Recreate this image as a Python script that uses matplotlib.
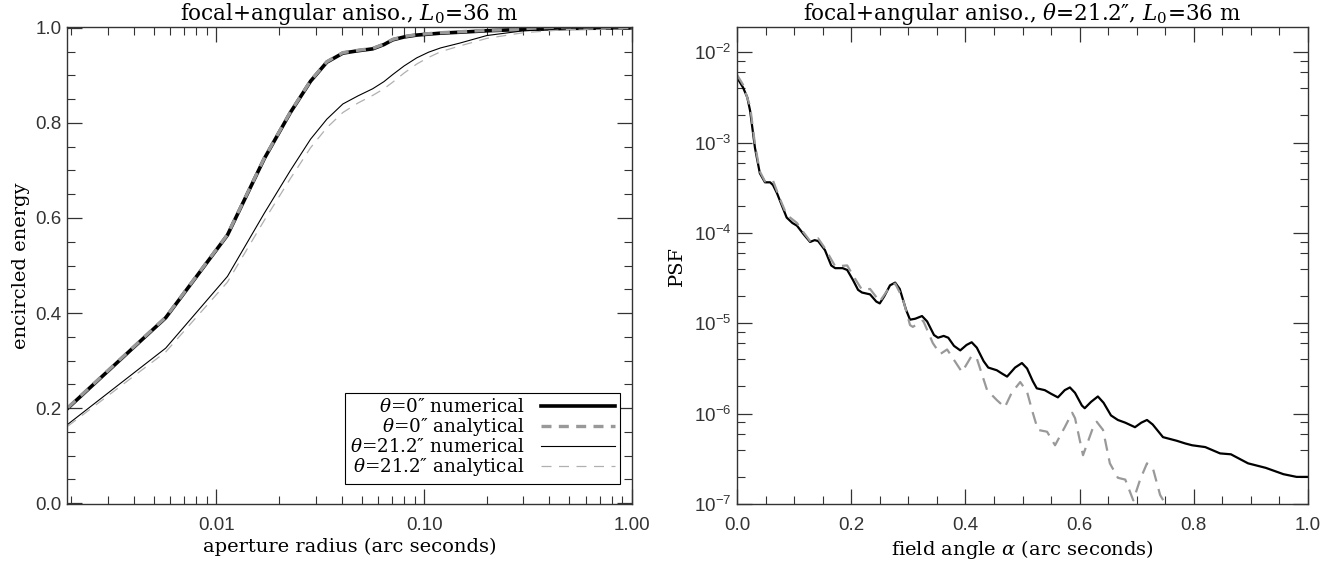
import numpy as np
import matplotlib
matplotlib.use("Agg")
import matplotlib.pyplot as plt
from matplotlib.ticker import FixedLocator, FuncFormatter, LogLocator, NullFormatter, MultipleLocator

plt.rcParams['font.family'] = ['DejaVu Serif']
plt.rcParams['mathtext.fontset'] = 'custom'
plt.rcParams['mathtext.rm'] = 'DejaVu Serif'
plt.rcParams['mathtext.it'] = 'DejaVu Serif:italic'
plt.rcParams['mathtext.sf'] = 'Liberation Sans'

# --- encircled energy (left panel) ---
aperture = [0.00193, 0.0057, 0.0113, 0.0170, 0.0227, 0.0284, 0.034, 0.0406, 0.048, 0.0565,
            0.064, 0.0706, 0.080, 0.092, 0.105, 0.120, 0.148, 0.20, 0.30, 0.50, 1.0]
ee_0_num = [0.200, 0.390, 0.564, 0.725, 0.822, 0.888, 0.928, 0.947, 0.952, 0.956,
            0.965, 0.975, 0.981, 0.985, 0.987, 0.989, 0.991, 0.994, 0.997, 0.999, 1.0]
ee_0_ana = [0.201, 0.391, 0.565, 0.726, 0.823, 0.889, 0.929, 0.948, 0.953, 0.957,
            0.966, 0.976, 0.982, 0.986, 0.988, 0.990, 0.992, 0.995, 0.997, 0.999, 1.0]
ee_21_num = [0.166, 0.326, 0.477, 0.610, 0.700, 0.766, 0.808, 0.840, 0.857, 0.872,
             0.887, 0.902, 0.920, 0.937, 0.949, 0.958, 0.968, 0.984, 0.994, 0.998, 1.0]
ee_21_ana = [0.162, 0.318, 0.465, 0.595, 0.683, 0.748, 0.790, 0.822, 0.842, 0.858,
             0.872, 0.886, 0.905, 0.924, 0.938, 0.950, 0.962, 0.978, 0.990, 0.997, 0.999]

# --- PSF at theta=21.2" (right panel), log10 values ---
alpha_num = [0.000, 0.0105, 0.018, 0.023, 0.0315, 0.040, 0.049, 0.058, 0.063, 0.070,
             0.075, 0.087, 0.097, 0.105, 0.116, 0.128, 0.136, 0.142, 0.154, 0.165,
             0.172, 0.185, 0.193, 0.203, 0.212, 0.219, 0.233, 0.244, 0.250, 0.258,
             0.268, 0.277, 0.285, 0.296, 0.303, 0.312, 0.324, 0.333, 0.345, 0.352,
             0.362, 0.370, 0.380, 0.391, 0.402, 0.411, 0.420, 0.432, 0.440, 0.455,
             0.465, 0.473, 0.487, 0.499, 0.508, 0.518, 0.525, 0.539, 0.550, 0.562,
             0.574, 0.583, 0.592, 0.604, 0.609, 0.620, 0.632, 0.642, 0.655, 0.667,
             0.680, 0.697, 0.708, 0.718, 0.728, 0.746, 0.770, 0.785, 0.797, 0.820,
             0.846, 0.865, 0.880, 0.895, 0.926, 0.957, 0.980, 1.0]
logpsf_num = [-2.28, -2.39, -2.50, -2.65, -3.06, -3.34, -3.44, -3.44, -3.47, -3.56,
              -3.64, -3.83, -3.89, -3.92, -4.01, -4.10, -4.08, -4.09, -4.19, -4.36,
              -4.39, -4.39, -4.41, -4.52, -4.63, -4.66, -4.68, -4.76, -4.78, -4.70,
              -4.58, -4.55, -4.62, -4.85, -4.96, -4.95, -4.92, -4.98, -5.13, -5.16,
              -5.14, -5.16, -5.25, -5.30, -5.24, -5.21, -5.27, -5.42, -5.49, -5.52,
              -5.56, -5.59, -5.49, -5.44, -5.50, -5.64, -5.72, -5.74, -5.78, -5.82,
              -5.74, -5.71, -5.77, -5.91, -5.94, -5.87, -5.81, -5.88, -6.02, -6.07,
              -6.10, -6.15, -6.10, -6.07, -6.12, -6.26, -6.30, -6.33, -6.35, -6.37,
              -6.44, -6.45, -6.50, -6.55, -6.60, -6.67, -6.70, -6.70]
alpha_ana = [0.000, 0.0105, 0.023, 0.0315, 0.040, 0.049, 0.063, 0.075, 0.087, 0.105,
             0.116, 0.128, 0.142, 0.154, 0.172, 0.193, 0.203, 0.219, 0.233, 0.250,
             0.265, 0.277, 0.290, 0.303, 0.308, 0.326, 0.343, 0.356, 0.368, 0.394,
             0.411, 0.420, 0.438, 0.455, 0.469, 0.481, 0.496, 0.508, 0.518, 0.527,
             0.543, 0.557, 0.574, 0.587, 0.592, 0.606, 0.622, 0.630, 0.641, 0.653,
             0.667, 0.680, 0.694, 0.706, 0.718, 0.729, 0.741, 0.755]
logpsf_ana = [-2.25, -2.36, -2.60, -3.02, -3.32, -3.43, -3.42, -3.62, -3.80, -3.89,
              -3.99, -4.09, -4.06, -4.17, -4.37, -4.36, -4.47, -4.63, -4.62, -4.76,
              -4.62, -4.56, -4.72, -5.02, -5.04, -4.97, -5.22, -5.34, -5.29, -5.54,
              -5.36, -5.39, -5.74, -5.85, -5.93, -5.77, -5.65, -5.76, -5.99, -6.18,
              -6.20, -6.35, -6.15, -5.99, -6.05, -6.46, -6.18, -6.09, -6.18, -6.55,
              -6.71, -6.73, -6.96, -6.73, -6.55, -6.62, -6.90, -7.05]

W, H = 1343, 563
fig = plt.figure(figsize=(W / 100, H / 100), dpi=100)
ax1 = fig.add_axes([67 / W, (H - 504) / H, (632 - 67) / W, (504 - 27) / H])
ax2 = fig.add_axes([737 / W, (H - 504) / H, (1308 - 737) / W, (504 - 27) / H])


def style_box(ax):
    ax.tick_params(which='both', direction='in', top=True, right=True, color='#333333')
    ax.tick_params(which='major', length=11, width=0.9)
    ax.tick_params(which='minor', length=6, width=0.8)
    for lab in ax.get_xticklabels() + ax.get_yticklabels():
        lab.set_fontfamily('Liberation Sans')
        lab.set_fontsize(13.5)
        lab.set_color('#333333')
    for sp in ax.spines.values():
        sp.set_linewidth(1.0)
        sp.set_color('#333333')
    ax.tick_params(axis='x', pad=9)
    ax.tick_params(axis='y', pad=4)


# left: encircled energy
ax1.plot(aperture, ee_0_num, color='black', lw=2.6, label='$\\theta$=0″ numerical')
ax1.plot(aperture, ee_0_ana, color='#999999', lw=2.4, dashes=(3.0, 2.2), label='$\\theta$=0″ analytical')
ax1.plot(aperture, ee_21_num, color='black', lw=0.8, label='$\\theta$=21.2″ numerical')
ax1.plot(aperture, ee_21_ana, color='#b0b0b0', lw=0.9, dashes=(8, 6), label='$\\theta$=21.2″ analytical')
ax1.set_xscale('log')
ax1.set_xlim(0.00191, 1.0)
ax1.set_ylim(-0.002, 1.002)
ax1.xaxis.set_major_locator(FixedLocator([0.01, 0.1, 1.0]))
ax1.xaxis.set_major_formatter(FuncFormatter(lambda v, p: '%.2f' % v))
ax1.xaxis.set_minor_locator(LogLocator(base=10, subs=np.arange(2, 10)))
ax1.xaxis.set_minor_formatter(NullFormatter())
ax1.yaxis.set_major_locator(MultipleLocator(0.2))
ax1.yaxis.set_major_formatter(FuncFormatter(lambda v, p: '%.1f' % abs(v)))
ax1.yaxis.set_minor_locator(MultipleLocator(0.05))
style_box(ax1)
ax1.set_xlabel('aperture radius (arc seconds)', fontsize=14, labelpad=3)
ax1.set_ylabel('encircled energy', fontsize=14, labelpad=4)
ax1.set_title('focal+angular aniso., $L_0$=36 m', fontsize=15.5, pad=3)
leg = ax1.legend(loc='lower right', bbox_to_anchor=(0.979, 0.042), markerfirst=False,
                 fontsize=13.2, handlelength=4.0, handletextpad=0.9, labelspacing=0.0,
                 borderpad=0.3, borderaxespad=0, fancybox=False, framealpha=1,
                 edgecolor='black')
leg.get_frame().set_linewidth(0.8)
leg._legend_box.align = 'right'

# right: PSF
ax2.plot(alpha_num, 10 ** np.array(logpsf_num), color='black', lw=1.6)
ax2.plot(alpha_ana, 10 ** np.array(logpsf_ana), color='#999999', lw=1.6, dashes=(5.5, 3.5))
ax2.set_yscale('log')
ax2.set_xlim(0, 1)
ax2.set_ylim(1e-7, 1.9e-2)
ax2.xaxis.set_major_locator(MultipleLocator(0.2))
ax2.xaxis.set_major_formatter(FuncFormatter(lambda v, p: '%.1f' % v))
ax2.xaxis.set_minor_locator(MultipleLocator(0.05))
ax2.yaxis.set_major_locator(LogLocator(base=10, numticks=12))
ax2.yaxis.set_major_formatter(FuncFormatter(lambda v, p: '$\\mathsf{10^{%d}}$' % round(np.log10(v))))
ax2.yaxis.set_minor_locator(LogLocator(base=10, subs=(2, 4, 6, 8), numticks=12))
ax2.yaxis.set_minor_formatter(NullFormatter())
style_box(ax2)
ax2.set_xlabel('field angle $\\alpha$ (arc seconds)', fontsize=14, labelpad=3)
ax2.set_ylabel('PSF', fontsize=14, labelpad=6)
ax2.set_title('focal+angular aniso., $\\theta$=21.2″, $L_0$=36 m', fontsize=15.5, pad=3)

fig.savefig('out.png', dpi=100)
